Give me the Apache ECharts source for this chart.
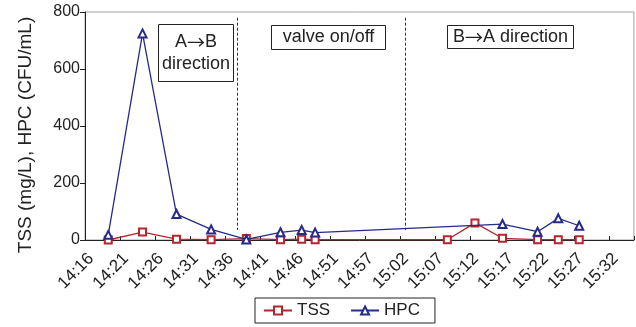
<!DOCTYPE html>
<html><head><meta charset="utf-8">
<script src="https://cdn.jsdelivr.net/npm/echarts@6/dist/echarts.min.js"></script>
<style>html,body{margin:0;padding:0;background:#fff}#c{width:636px;height:327px}</style>
</head><body><div id="c"></div>
<script>
// ---- data ----
const axisStart = '14:16:00';
const sampleTimes = ['14:19:22','14:24:20','14:29:15','14:34:16','14:39:22','14:44:19','14:47:23','14:49:20','15:08:29','15:12:29','15:16:28','15:21:33','15:24:33','15:27:35'];
const tssValues = [0, 28, 3, 1, 5, 1, 3, 1, 1, 60, 6, 1, 1, 1];
const hpcValues = [18, 725, 91, 37, 2, 27, 35, 26, null, null, 56, 29, 76, 50];
const tickLabels = ['14:16','14:21','14:26','14:31','14:36','14:41','14:46','14:51','14:57','15:02','15:07','15:12','15:17','15:22','15:27','15:32'];
const tickStepMin = 76 / 15;
const axisEndMin = 79.5;
const phaseBoundaries = ['14:38:00', '15:02:22'];
const phaseLabels = ['A\u2192B\ndirection', 'valve on/off', 'B\u2192A direction'];
const yTicks = [0, 200, 400, 600, 800];

function toMin(s) {
  const p = s.split(':').map(Number), q = axisStart.split(':').map(Number);
  return (p[0] * 60 + p[1] + (p[2] || 0) / 60) - (q[0] * 60 + q[1] + (q[2] || 0) / 60);
}
const tssData = sampleTimes.map((t, i) => [toMin(t), tssValues[i]]);
const hpcData = sampleTimes.map((t, i) => [toMin(t), hpcValues[i]]).filter(d => d[1] !== null);

const RED = '#b3262d', NAVY = '#262a8a', FONT = 'Liberation Sans, Arial, sans-serif';
const ARROW_FONT = '18px "Noto Sans CJK JP", "DejaVu Sans", sans-serif';
const richText = s => s.replace(/\u2192/g, '{a|\u2192}');
const richStyle = { a: { font: ARROW_FONT, fill: '#222', lineHeight: 22 } };

const chart = echarts.init(document.getElementById('c'), null, { renderer: 'canvas' });
chart.setOption({
  animation: false,
  backgroundColor: '#fff',
  textStyle: { fontFamily: FONT },
  grid: { left: 85, right: 1, top: 12, bottom: 87, show: true, borderColor: '#a0a0a0', borderWidth: 1, backgroundColor: 'transparent' },
  xAxis: {
    type: 'value', min: 0, max: axisEndMin, interval: tickStepMin,
    splitLine: { show: false },
    axisLine: { show: true, lineStyle: { color: '#222', width: 1 } },
    axisTick: { show: true, inside: true, length: 4, lineStyle: { color: '#222' } },
    axisLabel: {
      rotate: 45, align: 'right', verticalAlign: 'top', margin: 10,
      fontSize: 17, color: '#222', fontFamily: FONT,
      formatter: v => { const i = Math.round(v / tickStepMin); return (Math.abs(v - i * tickStepMin) < 1e-6 && tickLabels[i]) ? tickLabels[i] : ''; }
    }
  },
  yAxis: {
    type: 'value', min: yTicks[0], max: yTicks[yTicks.length - 1], interval: yTicks[1] - yTicks[0],
    name: 'TSS (mg/L), HPC (CFU/mL)', nameLocation: 'middle', nameGap: 50,
    nameTextStyle: { fontSize: 19, color: '#222', fontFamily: FONT, padding: [0, 18, 0, 0] },
    splitLine: { show: false },
    axisLine: { show: true, lineStyle: { color: '#222', width: 1 } },
    axisTick: { show: true, inside: false, length: 5, lineStyle: { color: '#222' } },
    axisLabel: { fontSize: 16, color: '#222', margin: 5, fontFamily: FONT }
  },
  legend: {
    left: 255, top: 298, orient: 'horizontal',
    data: ['TSS', 'HPC'],
    itemWidth: 28, itemHeight: 10, itemGap: 20,
    padding: [4, 15, 4, 8],
    borderColor: '#222', borderWidth: 1, borderRadius: 0,
    textStyle: { fontSize: 17, color: '#222', fontFamily: FONT }
  },
  series: [
    {
      name: 'TSS', type: 'line', data: tssData,
      symbol: 'emptyRect', symbolSize: 7,
      itemStyle: { color: RED, borderWidth: 1.2 },
      lineStyle: { color: RED, width: 1.3 },
      z: 3,
      markLine: {
        silent: true, symbol: 'none', label: { show: false },
        lineStyle: { color: '#333', width: 1, type: [3, 2] },
        data: phaseBoundaries.map(t => [{ coord: [toMin(t), 780] }, { coord: [toMin(t), 35] }])
      }
    },
    {
      name: 'HPC', type: 'line', data: hpcData,
      symbol: 'emptyTriangle', symbolSize: 8,
      itemStyle: { color: NAVY, borderWidth: 1.2 },
      lineStyle: { color: NAVY, width: 1.3 },
      z: 4
    }
  ],
  graphic: [
    { type: 'rect', shape: { x: 158.5, y: 24.5, width: 75, height: 57 }, style: { fill: '#fff', stroke: '#222', lineWidth: 1 }, z: 10 },
    { type: 'text', x: 196, y: 53, style: { text: richText(phaseLabels[0]), rich: richStyle, fill: '#222', font: '18px ' + FONT, align: 'center', verticalAlign: 'middle', lineHeight: 22 }, z: 11 },
    { type: 'rect', shape: { x: 271.5, y: 25.5, width: 114, height: 24 }, style: { fill: '#fff', stroke: '#222', lineWidth: 1 }, z: 10 },
    { type: 'text', x: 328.5, y: 37.5, style: { text: phaseLabels[1], fill: '#222', font: '18px ' + FONT, align: 'center', verticalAlign: 'middle' }, z: 11 },
    { type: 'rect', shape: { x: 447.5, y: 25.5, width: 126, height: 23 }, style: { fill: '#fff', stroke: '#222', lineWidth: 1 }, z: 10 },
    { type: 'text', x: 510.5, y: 37, style: { text: richText(phaseLabels[2]), rich: richStyle, fill: '#222', font: '18px ' + FONT, align: 'center', verticalAlign: 'middle', lineHeight: 22 }, z: 11 }
  ]
});
</script>
</body></html>
